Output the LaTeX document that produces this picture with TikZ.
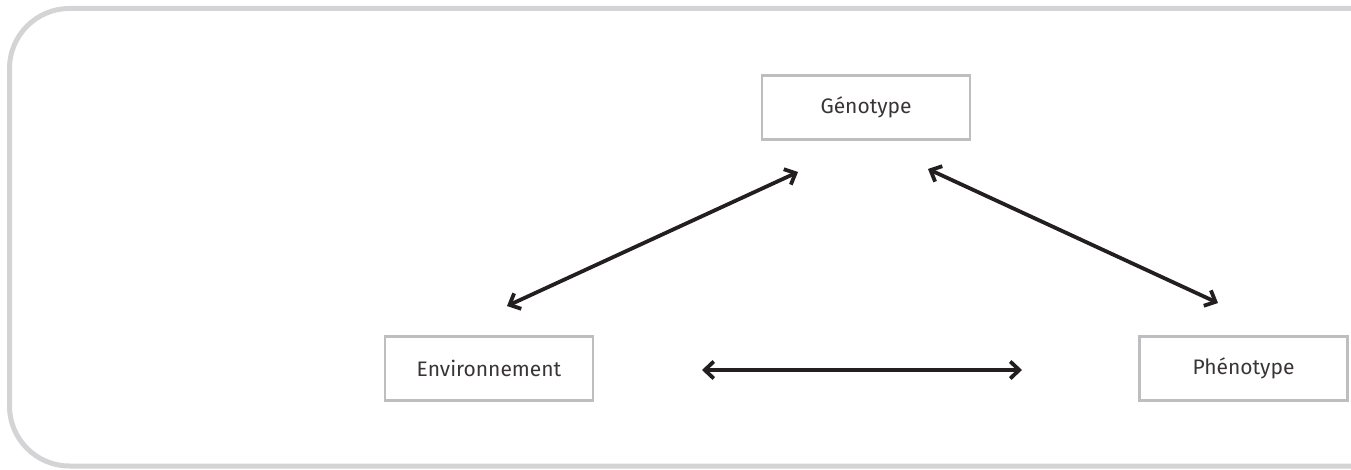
\documentclass[tikz,border=0pt]{standalone}
\usepackage{fontspec}
\setmainfont{Fira Sans}
\usetikzlibrary{arrows.meta}
\definecolor{frame}{HTML}{D4D4D6}
\definecolor{boxline}{HTML}{BEBEC0}
\definecolor{ink}{HTML}{231F20}
\tikzset{
  termbox/.style={draw=boxline, line width=2.8pt, minimum width=208pt, minimum height=64pt, inner sep=0pt, font=\fontsize{21}{25}\selectfont, text=ink!90},
  link/.style={draw=ink, line width=3.8pt, {Straight Barb[length=9pt,width=17pt,line width=3.8pt]}-{Straight Barb[length=9pt,width=17pt,line width=3.8pt]}}
}
\begin{document}
\begin{tikzpicture}[x=1pt,y=-1pt]
\useasboundingbox (0,0) rectangle (1351,470);
\clip (0,0) rectangle (1351,470);
\draw[frame, line width=5pt, rounded corners=60pt] (9.5,8.5) rectangle (1420,466);
\node[termbox] (geno) at (866,107.5) {Génotype};
\node[termbox] (env) at (489,368.5) {Environnement};
\node[termbox] (pheno) at (1243.5,368.5) {Phénotype};
\coordinate (a1) at (507,306);
\coordinate (a2) at (798,172);
\coordinate (b1) at (928,169);
\coordinate (b2) at (1218,303);
\coordinate (c1) at (702,370);
\coordinate (c2) at (1022,370);
\draw[link] (a1) -- (a2);
\draw[link] (b1) -- (b2);
\draw[link] (c1) -- (c2);
\end{tikzpicture}
\end{document}
